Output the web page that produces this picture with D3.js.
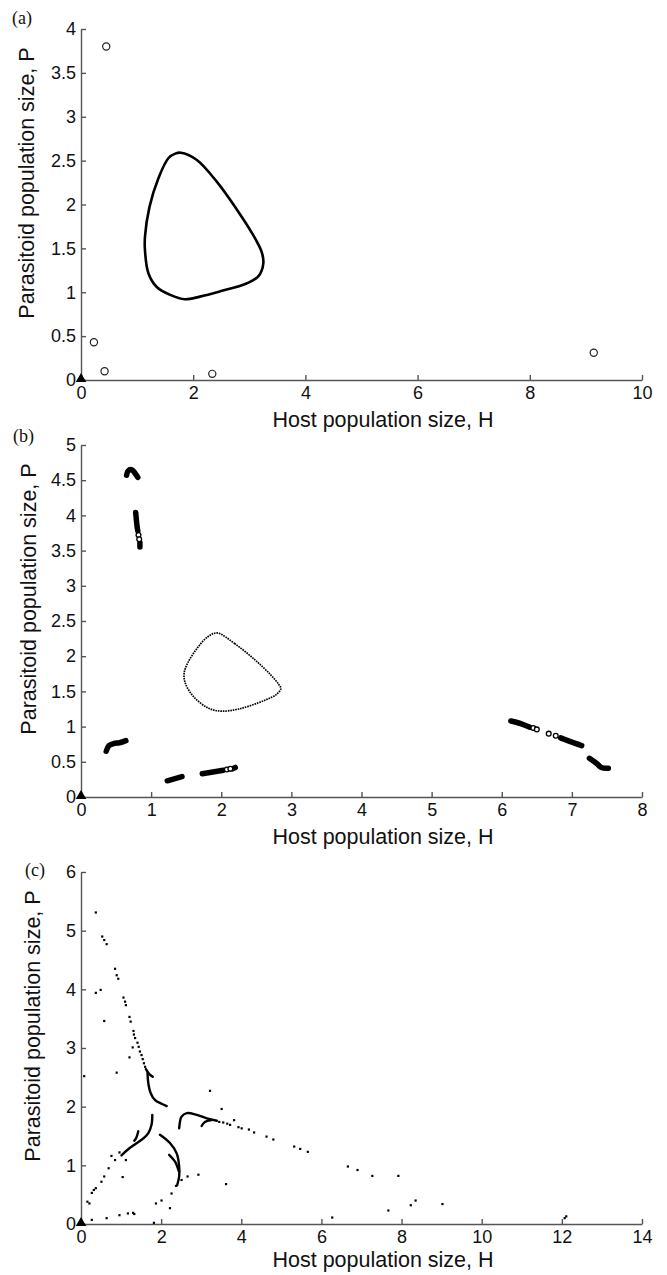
<!DOCTYPE html>
<html>
<head>
<meta charset="utf-8">
<script src="https://cdn.jsdelivr.net/npm/d3@7"></script>
<style>
  body { margin: 0; background: #fff; }
  svg { display: block; }
  text { font-family: "Liberation Sans", Arial, sans-serif; fill: #111; }
</style>
</head>
<body>
<script>
/* DATA (H, P) */

// (a) limit cycle and isolated points
var aCycle = [[1.78,2.59],[2.06,2.51],[2.42,2.26],[2.78,1.94],[3.07,1.65],[3.22,1.46],[3.25,1.33],
  [3.16,1.18],[2.95,1.10],[2.48,1.01],[2.12,0.95],[1.85,0.92],[1.59,0.97],[1.35,1.06],[1.20,1.22],
  [1.14,1.48],[1.14,1.63],[1.22,1.97],[1.38,2.30],[1.56,2.53],[1.68,2.58]];
var aRings = [[0.45,3.80],[0.23,0.43],[0.42,0.10],[2.34,0.07],[9.14,0.31]];

// (b) limit cycle, clusters (solid traces) and open rings
var bCycle = [[1.94,2.33],[2.19,2.18],[2.49,1.94],[2.70,1.74],[2.82,1.60],[2.85,1.54],[2.79,1.46],
  [2.61,1.37],[2.25,1.25],[2.00,1.22],[1.82,1.26],[1.61,1.42],[1.49,1.61],[1.47,1.75],[1.52,1.90],
  [1.64,2.09],[1.80,2.27]];
var bTraces = [
  [[0.65,4.57],[0.67,4.63],[0.72,4.65],[0.77,4.60],[0.81,4.54]],
  [[0.78,4.04],[0.80,3.84],[0.81,3.78]],
  [[0.84,3.61],[0.84,3.55]],
  [[0.36,0.65],[0.40,0.73],[0.47,0.76],[0.55,0.77],[0.64,0.80]],
  [[1.23,0.23],[1.44,0.29]],
  [[1.73,0.33],[2.03,0.38]],
  [[2.16,0.40],[2.20,0.42]],
  [[6.13,1.08],[6.28,1.04],[6.40,0.99]],
  [[6.84,0.84],[6.97,0.79],[7.14,0.73]],
  [[7.25,0.55],[7.35,0.48],[7.42,0.42],[7.52,0.41]]
];
var bRings = [[0.82,3.72],[0.83,3.66],[2.08,0.39],[2.13,0.40],[6.45,0.98],[6.50,0.96],[6.67,0.90],[6.77,0.87]];

// (c) scattered iterates and dense branches
var cDots = [[0.37,5.31],[0.53,4.90],[0.58,4.84],[0.64,4.77],[0.85,4.35],[0.89,4.24],[0.93,4.18],
  [0.37,3.94],[0.49,3.99],[0.58,3.46],[1.06,3.86],[1.10,3.79],[1.12,3.73],[1.21,3.53],[1.24,3.45],
  [1.31,3.29],[1.32,3.23],[1.35,3.17],[1.41,3.09],[1.44,3.02],[1.47,2.94],[1.51,2.88],[1.54,2.81],
  [1.57,2.74],[1.60,2.68],[1.29,3.01],[1.21,2.84],[0.89,2.58],[0.08,2.52],
  [3.22,2.27],[3.51,1.96],[3.45,1.74],[3.55,1.73],[3.65,1.71],[3.72,1.69],
  [3.82,1.77],[3.93,1.65],[4.01,1.63],[4.19,1.61],[4.32,1.56],[4.63,1.49],[4.80,1.44],
  [5.32,1.32],[5.47,1.28],[5.66,1.23],[6.66,0.98],[6.90,0.92],[7.27,0.82],[7.92,0.82],
  [7.67,0.23],[8.23,0.32],[8.35,0.40],[9.02,0.34],[6.27,0.11],[12.07,0.10],[12.11,0.13],
  [3.62,0.68],[2.66,0.81],[2.93,0.84],[2.51,0.75],[2.22,0.27],[1.87,0.35],[2.01,0.40],
  [2.26,0.52],[2.37,0.65],[1.82,0.02],
  [0.85,1.09],[0.76,1.16],[0.69,0.95],[0.58,0.81],[0.51,0.72],[0.37,0.61],[0.32,0.58],
  [0.27,0.53],[0.16,0.38],[0.21,0.35],[1.12,1.09],[1.04,0.80],[0.96,1.22],
  [0.27,0.07],[0.64,0.10],[0.96,0.15],[1.17,0.18],[1.30,0.19],[1.33,0.17]];
var cBranches = [
  [[1.66,2.57],[1.68,2.40],[1.74,2.23],[1.85,2.11],[2.01,2.05],[2.14,2.01]],
  [[1.62,2.64],[1.70,2.56],[1.79,2.51]],
  [[1.78,1.86],[1.76,1.69],[1.68,1.55],[1.52,1.44],[1.35,1.36],[1.17,1.27],[1.01,1.17]],
  [[1.43,1.58],[1.38,1.47],[1.33,1.42]],
  [[1.97,1.52],[2.22,1.38],[2.39,1.20],[2.45,0.98],[2.45,0.81],[2.40,0.66]],
  [[2.20,1.18],[2.35,1.06],[2.44,0.90]],
  [[2.45,1.63],[2.51,1.83],[2.64,1.89],[2.89,1.86],[3.14,1.80],[3.39,1.76]],
  [[3.01,1.67],[3.09,1.74],[3.26,1.77]]
];

// axis extents and ticks
var aXTicks = [0,2,4,6,8,10], aYTicks = [0,0.5,1,1.5,2,2.5,3,3.5,4];
var bXTicks = [0,1,2,3,4,5,6,7,8], bYTicks = [0,0.5,1,1.5,2,2.5,3,3.5,4,4.5,5];
var cXTicks = [0,2,4,6,8,10,12,14], cYTicks = [0,1,2,3,4,5,6];

var svg = d3.select("body").append("svg")
  .attr("width", 667).attr("height", 1275);

var left = 81, right = 642;

function panel(cfg){
  var g = svg.append("g");
  var x = d3.scaleLinear().domain([0, cfg.xMax]).range([left, right]);
  var y = d3.scaleLinear().domain([0, cfg.yMax]).range([cfg.bottom, cfg.top]);

  // axes (inward ticks, no box)
  var xa = g.append("g").attr("transform", "translate(0," + cfg.bottom + ")")
    .call(d3.axisBottom(x).tickValues(cfg.xTicks).tickSizeInner(-5).tickSizeOuter(0)
      .tickPadding(6).tickFormat(d => d));
  var ya = g.append("g").attr("transform", "translate(" + left + ",0)")
    .call(d3.axisLeft(y).tickValues(cfg.yTicks).tickSizeInner(-5).tickSizeOuter(0)
      .tickPadding(5).tickFormat(d => d));
  [xa, ya].forEach(a => {
    a.selectAll("path, line").attr("stroke", "#555").attr("stroke-width", 1.4);
    a.selectAll("text").style("font-size", "18px").attr("fill", "#111");
  });

  // labels
  g.append("text").attr("x", 383).attr("y", cfg.bottom + cfg.xLabOff)
    .attr("text-anchor", "middle").style("font-size", "21.5px")
    .text("Host population size, H");
  g.append("text").attr("transform", "translate(" + cfg.yLabX + "," + (cfg.top + 154) + ") rotate(-90)")
    .attr("text-anchor", "middle").style("font-size", "21.5px")
    .text("Parasitoid population size, P");
  g.append("text").attr("x", cfg.tagX).attr("y", cfg.top + cfg.tagOff)
    .style("font-family", "'Liberation Serif', 'Times New Roman', serif").style("font-size", "18px")
    .text(cfg.tag);

  cfg.draw(g, x, y);

  // trivial equilibrium at the origin
  g.append("path").attr("d", d3.symbol(d3.symbolTriangle, 48)())
    .attr("transform", "translate(" + x(0) + "," + (y(0) - 1) + ")")
    .attr("fill", "#000");
}

panel({ tag: "(a)", tagX: 12, tagOff: -5, top: 29, bottom: 380, xMax: 10, yMax: 4,
  xTicks: aXTicks, yTicks: aYTicks, xLabOff: 47, yLabX: 34,
  draw: function(g, x, y){
    var line = d3.line().x(d => x(d[0])).y(d => y(d[1])).curve(d3.curveCatmullRomClosed);
    g.append("path").datum(aCycle).attr("d", line)
      .attr("fill", "none").attr("stroke", "#000").attr("stroke-width", 2.6);
    g.selectAll(".ring").data(aRings).enter().append("circle")
      .attr("cx", d => x(d[0])).attr("cy", d => y(d[1])).attr("r", 3.6)
      .attr("fill", "none").attr("stroke", "#222").attr("stroke-width", 1.2);
  }});

panel({ tag: "(b)", tagX: 13, tagOff: -3, top: 445, bottom: 797, xMax: 8, yMax: 5,
  xTicks: bXTicks, yTicks: bYTicks, xLabOff: 47, yLabX: 36,
  draw: function(g, x, y){
    var loop = d3.line().x(d => x(d[0])).y(d => y(d[1])).curve(d3.curveCatmullRomClosed);
    g.append("path").datum(bCycle).attr("d", loop)
      .attr("fill", "none").attr("stroke", "#000").attr("stroke-width", 1.7)
      .attr("stroke-dasharray", "1.6 0.9");
    var tr = d3.line().x(d => x(d[0])).y(d => y(d[1])).curve(d3.curveCatmullRom);
    g.selectAll(".trace").data(bTraces).enter().append("path")
      .attr("d", tr).attr("fill", "none").attr("stroke", "#000")
      .attr("stroke-width", 5.5).attr("stroke-linecap", "round").attr("stroke-linejoin", "round");
    g.selectAll(".ring").data(bRings).enter().append("circle")
      .attr("cx", d => x(d[0])).attr("cy", d => y(d[1])).attr("r", 2.4)
      .attr("fill", "#fff").attr("stroke", "#000").attr("stroke-width", 1.3);
  }});

panel({ tag: "(c)", tagX: 25, tagOff: 4, top: 872, bottom: 1224, xMax: 14, yMax: 6,
  xTicks: cXTicks, yTicks: cYTicks, xLabOff: 43, yLabX: 40,
  draw: function(g, x, y){
    var tr = d3.line().x(d => x(d[0])).y(d => y(d[1])).curve(d3.curveCatmullRom);
    g.selectAll(".branch").data(cBranches).enter().append("path")
      .attr("d", tr).attr("fill", "none").attr("stroke", "#000")
      .attr("stroke-width", 2.4).attr("stroke-linecap", "round");
    g.selectAll(".dot").data(cDots).enter().append("rect")
      .attr("x", d => x(d[0]) - 1.1).attr("y", d => y(d[1]) - 1.1)
      .attr("width", 2.2).attr("height", 2.2).attr("fill", "#000");
  }});
</script>
</body>
</html>
